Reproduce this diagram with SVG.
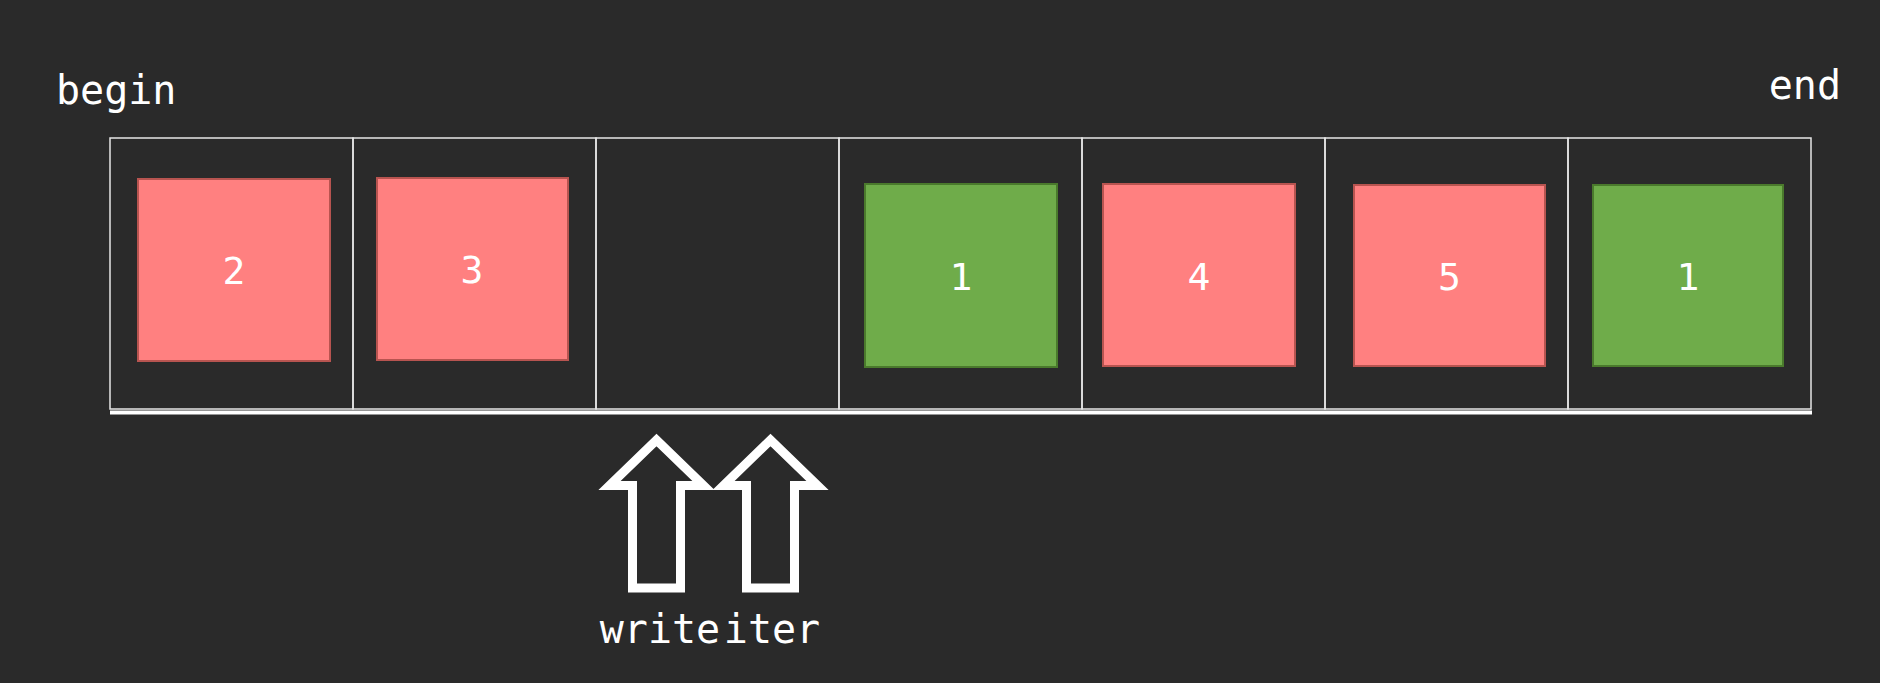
<svg xmlns="http://www.w3.org/2000/svg" width="1880" height="683" viewBox="0 0 1880 683">
<style>
.cell{fill:none;stroke:#e6e6e6;stroke-width:1.5}
.red{fill:#ff8080;stroke:#b85450;stroke-width:2}
.green{fill:#6fac4a;stroke:#4a7a2c;stroke-width:2}
.t{font-family:"DejaVu Sans Mono","Liberation Mono",monospace;fill:#ffffff}
.num{font-size:38px;text-anchor:middle}
.lbl{font-size:40px}
.arrow{fill:none;stroke:#ffffff;stroke-width:9;stroke-linejoin:miter;stroke-miterlimit:10}
</style>
<rect width="1880" height="683" fill="#2a2a2a"/>
<g id="labels">
<text class="t lbl" x="56" y="104">begin</text>
<text class="t lbl" x="1841" y="99" text-anchor="end">end</text>
</g>
<g id="array">
<rect class="cell" x="110" y="138" width="243" height="271"/>
<rect class="cell" x="353" y="138" width="243" height="271"/>
<rect class="cell" x="596" y="138" width="243" height="271"/>
<rect class="cell" x="839" y="138" width="243" height="271"/>
<rect class="cell" x="1082" y="138" width="243" height="271"/>
<rect class="cell" x="1325" y="138" width="243" height="271"/>
<rect class="cell" x="1568" y="138" width="243" height="271"/>
<line x1="110" y1="412.5" x2="1812" y2="412.5" stroke="#ffffff" stroke-width="4"/>
</g>
<g id="n1"><rect class="red" x="138" y="179" width="192" height="182"/><text class="t num" x="234" y="284">2</text></g>
<g id="n2"><rect class="red" x="377" y="178" width="191" height="182"/><text class="t num" x="472" y="283">3</text></g>
<g id="n3"><rect class="green" x="865" y="184" width="192" height="183"/><text class="t num" x="961" y="290">1</text></g>
<g id="n4"><rect class="red" x="1103" y="184" width="192" height="182"/><text class="t num" x="1199" y="290">4</text></g>
<g id="n5"><rect class="red" x="1354" y="185" width="191" height="181"/><text class="t num" x="1449.5" y="290">5</text></g>
<g id="n6"><rect class="green" x="1593" y="185" width="190" height="181"/><text class="t num" x="1688" y="290">1</text></g>
<g id="write">
<polygon class="arrow" points="656.5,440 703.5,485.5 680.5,485.5 680.5,588 632.5,588 632.5,485.5 609.5,485.5"/>
<text class="t lbl" x="660" y="643" text-anchor="middle">write</text>
</g>
<g id="iter">
<polygon class="arrow" points="770.5,440 817.5,485.5 794.5,485.5 794.5,588 746.5,588 746.5,485.5 723.5,485.5"/>
<text class="t lbl" x="772" y="643" text-anchor="middle">iter</text>
</g>
</svg>
